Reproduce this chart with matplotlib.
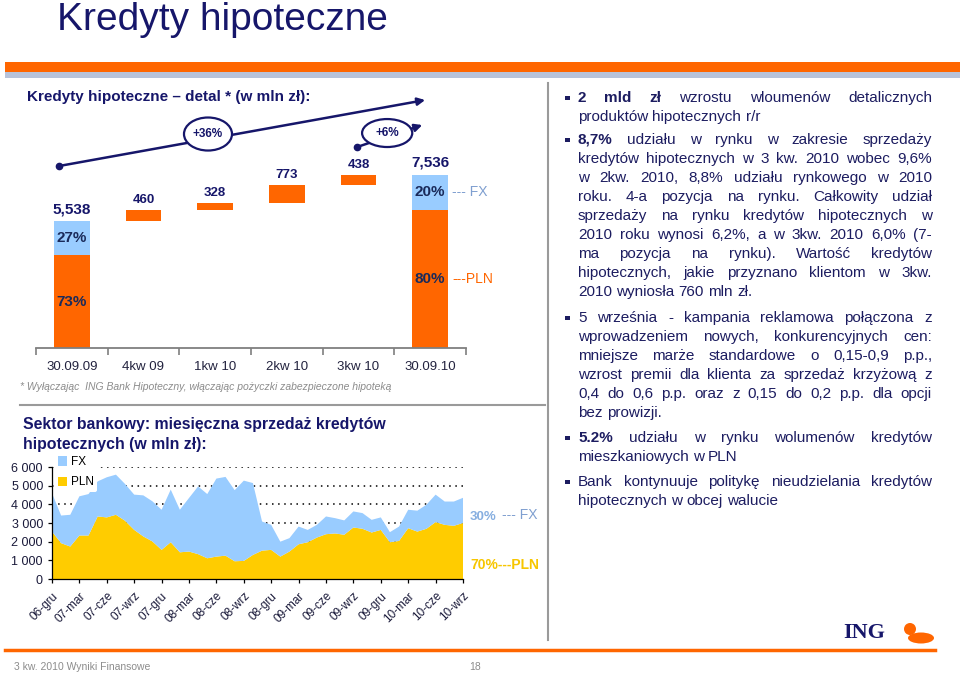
import matplotlib
matplotlib.use("Agg")
import matplotlib.pyplot as plt
import numpy as np
from matplotlib.patches import Rectangle, Ellipse, Circle

plt.rcParams['font.family'] = ['Liberation Sans', 'DejaVu Sans']

NAVY = '#16166a'
TEXT_NAVY = '#1c1c60'
ORANGE = '#ff6600'
LIGHT_BLUE = '#99ccff'
GOLD = '#ffcc00'
GREY = '#8c8c8c'

# --- top chart: retail mortgage bridge (mln zł)
categories = ["30.09.09", "4kw 09", "1kw 10", "2kw 10", "3kw 10", "30.09.10"]
start_total = 5538
end_total = 7536
increments = [460, 328, 773, 438]
start_fx_pct, start_pln_pct = 27, 73
end_fx_pct, end_pln_pct = 20, 80
growth_labels = ["+36%", "+6%"]

# --- bottom chart: monthly mortgage sales of the banking sector (mln zł), 06-gru .. 10-wrz
tick_labels = ["06-gru", "07-mar", "07-cze", "07-wrz", "07-gru", "08-mar", "08-cze", "08-wrz",
               "08-gru", "09-mar", "09-cze", "09-wrz", "09-gru", "10-mar", "10-cze", "10-wrz"]
pln_sales = [2540, 1920, 1740, 2330, 2330, 3350, 3300, 3440, 3120, 2630, 2280, 2010, 1560, 1970,
             1430, 1470, 1330, 1110, 1200, 1250, 950, 970, 1290, 1520, 1560, 1200, 1470, 1860,
             1970, 2220, 2400, 2440, 2370, 2760, 2690, 2490, 2630, 1970, 2040, 2720, 2540, 2690,
             3050, 2900, 2850, 3000]
fx_sales = [2060, 1480, 1700, 2100, 2220, 1880, 2150, 2150, 1970, 1890, 2200, 2150, 2150, 2820,
            2280, 2870, 3630, 3440, 4180, 4220, 3810, 4300, 3850, 1560, 1340, 800, 720, 950,
            660, 680, 950, 820, 770, 860, 840, 680, 670, 540, 770, 990, 1120, 1290, 1470,
            1250, 1300, 1350]
market_fx_pct, market_pln_pct = 30, 70

# --- right column bullets
bullets = [
    ["2 mld zł wzrostu wloumenów detalicznych",
     "produktów hipotecznych r/r"],
    ["8,7% udziału w rynku w zakresie sprzedaży",
     "kredytów hipotecznych w 3 kw. 2010 wobec 9,6%",
     "w 2kw. 2010, 8,8% udziału rynkowego w 2010",
     "roku. 4-a pozycja na rynku. Całkowity udział",
     "sprzedaży na rynku kredytów hipotecznych w",
     "2010 roku wynosi 6,2%, a w 3kw. 2010 6,0% (7-",
     "ma pozycja na rynku). Wartość kredytów",
     "hipotecznych, jakie przyznano klientom w 3kw.",
     "2010 wyniosła 760 mln zł."],
    ["5 września -  kampania reklamowa połączona  z",
     "wprowadzeniem nowych, konkurencyjnych cen:",
     "mniejsze marże standardowe o 0,15-0,9 p.p.,",
     "wzrost premii dla klienta za sprzedaż krzyżową z",
     "0,4 do 0,6 p.p. oraz z 0,15 do 0,2 p.p. dla opcji",
     "bez prowizji."],
    ["5.2% udziału w rynku wolumenów kredytów",
     "mieszkaniowych w PLN"],
    ["Bank kontynuuje politykę nieudzielania kredytów",
     "hipotecznych w obcej walucie"],
]
bold_words = [3, 1, 0, 1, 0]
bullet_y = [98, 140, 318, 438, 482]

W, H = 960, 676
fig = plt.figure(figsize=(9.6, 6.76), dpi=100)


def rect(x0, y0, x1, y1):
    return [x0 / W, 1 - y1 / H, (x1 - x0) / W, (y1 - y0) / H]


deco = fig.add_axes([0, 0, 1, 1])
deco.set_xlim(0, W)
deco.set_ylim(H, 0)
deco.axis('off')

# header
deco.text(57, 30, "Kredyty hipoteczne", fontsize=28, color=NAVY, va='baseline')
deco.add_patch(Rectangle((5, 62), 955, 10, color=ORANGE, lw=0))
deco.add_patch(Rectangle((5, 72), 955, 6, color='#b8c3da', lw=0))
deco.plot([548, 548], [83, 640], color='#9a9a9a', lw=1.5)
deco.plot([20, 545], [405, 405], color='#9a9a9a', lw=1.5)

deco.text(27, 97, "Kredyty hipoteczne – detal * (w mln zł):", fontsize=11, weight='bold',
          color=NAVY, va='center')
deco.text(20, 387, "* Wyłączając  ING Bank Hipoteczny, włączając pożyczki zabezpieczone hipoteką",
          fontsize=7.5, style='italic', color=GREY, va='center')
deco.text(23, 425, "Sektor bankowy: miesięczna sprzedaż kredytów", fontsize=11.4, weight='bold',
          color=NAVY, va='center')
deco.text(23, 445, "hipotecznych (w mln zł):", fontsize=11.4, weight='bold', color=NAVY, va='center')

# footer
deco.plot([5, 935], [650, 650], color=ORANGE, lw=2.5)
deco.text(14, 667, "3 kw. 2010 Wyniki Finansowe", fontsize=7.5, color=GREY, va='center')
deco.text(475, 667, "18", fontsize=7.5, color=GREY, va='center', ha='center')
deco.text(864, 633, "ING", fontsize=16, weight='bold', family='Liberation Serif', color=NAVY,
          ha='center', va='center')
deco.add_patch(Ellipse((921, 638), 26, 11, color=ORANGE, lw=0))
deco.add_patch(Circle((910, 629), 6, color=ORANGE, lw=0))

# ---------------- top chart ----------------
ax1 = fig.add_axes(rect(36, 95.8, 466, 348))
ax1.patch.set_alpha(0)
x = np.arange(len(categories))
levels = np.cumsum([start_total] + increments)
bw = 0.5

start_pln = start_total * start_pln_pct / 100
start_fx = start_total - start_pln
end_pln = end_total * end_pln_pct / 100
end_fx = end_total - end_pln

ax1.bar(x[0], start_pln, bw, color=ORANGE)
ax1.bar(x[0], start_fx, bw, bottom=start_pln, color=LIGHT_BLUE)
ax1.bar(x[1:5], increments, bw, bottom=levels[:-1], color=ORANGE)
ax1.bar(x[5], end_pln, bw, color=ORANGE)
ax1.bar(x[5], end_fx, bw, bottom=end_pln, color=LIGHT_BLUE)

ax1.annotate(f"{start_total:,}", (x[0], start_total), xytext=(0, 3), textcoords='offset points',
             ha='center', va='bottom', fontsize=11, weight='bold', color=NAVY)
ax1.annotate(f"{end_total:,}", (x[5], end_total), xytext=(0, 4), textcoords='offset points',
             ha='center', va='bottom', fontsize=11, weight='bold', color=NAVY)
for xi, inc, top in zip(x[1:5], increments, levels[1:]):
    ax1.annotate(f"{inc}", (xi, top), xytext=(0, 3), textcoords='offset points',
                 ha='center', va='bottom', fontsize=9.5, weight='bold', color=NAVY)

pct_style = dict(ha='center', va='center', fontsize=11, weight='bold', color='#1a2a5a')
ax1.text(x[0], start_pln / 2, f"{start_pln_pct}%", **pct_style)
ax1.text(x[0], start_pln + start_fx / 2, f"{start_fx_pct}%", **pct_style)
ax1.text(x[5], end_pln / 2, f"{end_pln_pct}%", **pct_style)
ax1.text(x[5], end_pln + end_fx / 2, f"{end_fx_pct}%", **pct_style)
ax1.annotate("--- FX", (x[5] + bw / 2, end_pln + end_fx / 2), xytext=(3, 0),
             textcoords='offset points', va='center', fontsize=10, color='#7f9fd0',
             annotation_clip=False)
ax1.annotate("---PLN", (x[5] + bw / 2, end_pln / 2), xytext=(3, 0),
             textcoords='offset points', va='center', fontsize=10, color=ORANGE,
             annotation_clip=False)

# growth arrows
arrow_kw = dict(arrowstyle='-|>', color=NAVY, lw=1.8, mutation_scale=11, shrinkA=0, shrinkB=0)
ax1.annotate('', xy=(4.93, 10815), xytext=(-0.18, 7937), arrowprops=arrow_kw,
             annotation_clip=False)
ax1.plot(-0.18, 7937, 'o', ms=4.5, color=NAVY, clip_on=False)
ax1.annotate('', xy=(4.89, 9725), xytext=(3.98, 8766), arrowprops=arrow_kw,
             annotation_clip=False)
ax1.plot(3.98, 8766, 'o', ms=4.5, color=NAVY, clip_on=False)
ax1.add_patch(Ellipse((1.9, 9333), 0.67, 1440, fc='white', ec=NAVY, lw=1.6, zorder=5,
                      clip_on=False))
ax1.add_patch(Ellipse((4.4, 9376), 0.70, 1220, fc='white', ec=NAVY, lw=1.6, zorder=5,
                      clip_on=False))
ax1.text(1.9, 9333, growth_labels[0], ha='center', va='center', fontsize=8.5, weight='bold',
         color=NAVY, zorder=6)
ax1.text(4.4, 9376, growth_labels[1], ha='center', va='center', fontsize=8.5, weight='bold',
         color=NAVY, zorder=6)

ax1.set_xlim(-0.5, 5.5)
ax1.set_ylim(0, 11000)
for s in ['left', 'top', 'right']:
    ax1.spines[s].set_visible(False)
ax1.spines['bottom'].set_color('#7f7f7f')
ax1.spines['bottom'].set_linewidth(1.3)
ax1.set_yticks([])
ax1.set_xticks(x)
ax1.set_xticklabels(categories, fontsize=9.5, color='#23233f')
ax1.set_xticks(np.arange(-0.5, 6), minor=True)
ax1.tick_params(axis='x', which='major', length=0, pad=9)
ax1.tick_params(axis='x', which='minor', length=5, color='#7f7f7f', width=1.2)

# ---------------- bottom chart ----------------
ax2 = fig.add_axes(rect(52, 467, 463, 579))
ax2.patch.set_alpha(0)
xm = np.arange(len(pln_sales))
polys = ax2.stackplot(xm, pln_sales, fx_sales, colors=[GOLD, LIGHT_BLUE], lw=0)
ax2.set_xlim(0, len(pln_sales) - 1)
ax2.set_ylim(0, 6000)
ax2.set_axisbelow(True)
ax2.yaxis.grid(True, ls=(0, (1, 3)), color='black', lw=1.1)
for s in ['top', 'right']:
    ax2.spines[s].set_visible(False)
for s in ['left', 'bottom']:
    ax2.spines[s].set_color('black')
    ax2.spines[s].set_linewidth(0.9)
yt = np.arange(0, 6001, 1000)
ax2.set_yticks(yt)
ax2.set_yticklabels([f"{v:,}".replace(",", " ") for v in yt], fontsize=9, color='#1a1a3a')
ax2.set_xticks(xm[::3])
ax2.set_xticklabels(tick_labels, rotation=45, ha='right', rotation_mode='anchor', fontsize=8.5,
                    color='#1a1a3a')
ax2.tick_params(axis='both', length=3, width=0.9)
ax2.tick_params(axis='x', pad=5)
ax2.legend([polys[1], polys[0]], ['FX', 'PLN'], loc='upper left', bbox_to_anchor=(0.0, 1.15),
           frameon=True, facecolor='white', edgecolor='none', framealpha=1, fontsize=8.5,
           handlelength=0.8, handleheight=0.8, handletextpad=0.3, labelspacing=0.7,
           borderpad=0.3, borderaxespad=0.2)
ax2.text(1.017, 0.554, f"{market_fx_pct}%", transform=ax2.transAxes, fontsize=9.5,
         weight='bold', color='#86aee0', va='center')
ax2.text(1.095, 0.57, "--- FX", transform=ax2.transAxes, fontsize=10, color='#7f9fd0',
         va='center')
ax2.text(1.017, 0.125, f"{market_pln_pct}%---PLN", transform=ax2.transAxes, fontsize=10,
         weight='bold', color='#f7c600', va='center')

# ---------------- right column ----------------
renderer = fig.canvas.get_renderer()
X_LEFT, X_RIGHT = 578, 932
LINE_H = 19
SPACE = 0.278 * 11 * 100 / 72


def draw_line(line, y, justify, n_bold):
    words = line.split()
    texts = []
    for i, w in enumerate(words):
        texts.append(deco.text(0, y, w, fontsize=11, color=TEXT_NAVY, va='center',
                               weight='bold' if i < n_bold else 'normal'))
    widths = [t.get_window_extent(renderer).width for t in texts]
    gap = SPACE
    if justify and len(words) > 1:
        gap = (X_RIGHT - X_LEFT - sum(widths)) / (len(words) - 1)
    xx = X_LEFT
    for t, w in zip(texts, widths):
        t.set_x(xx)
        xx += w + gap


for lines, nb, y0 in zip(bullets, bold_words, bullet_y):
    deco.add_patch(Rectangle((565, y0 - 2.5), 4.5, 4.5, color=TEXT_NAVY, lw=0))
    for j, line in enumerate(lines):
        draw_line(line, y0 + j * LINE_H, j < len(lines) - 1, nb if j == 0 else 0)

fig.savefig("out.png", dpi=100)
